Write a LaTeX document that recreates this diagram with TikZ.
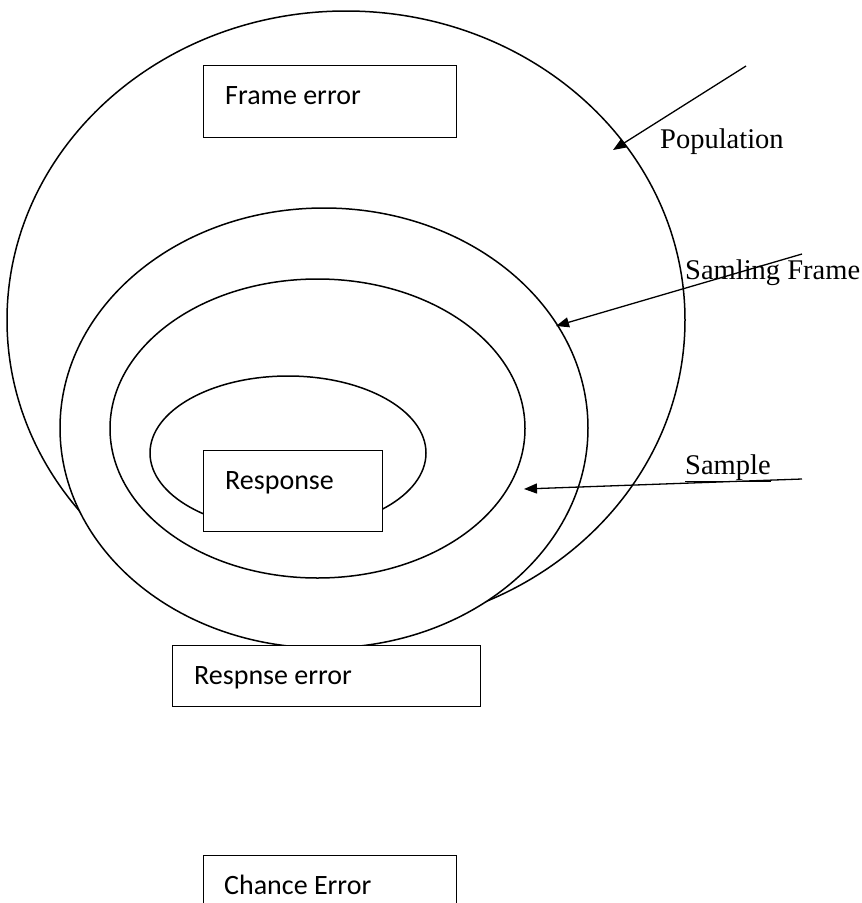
\documentclass[tikz,border=0pt]{standalone}
\usepackage{fontspec}
\setmainfont{Liberation Serif}
\newfontfamily\boxfont{Carlito}
\usetikzlibrary{shapes.geometric,arrows.meta}
\tikzset{
  ring/.style={ellipse, draw, fill=white, line width=1.5pt, inner sep=0pt},
  errbox/.style={draw, fill=white, line width=1.4pt, inner sep=0pt, anchor=north west},
  boxtext/.style={anchor=base west, inner sep=0pt, font=\boxfont\fontsize{28}{34}\selectfont},
  lbl/.style={anchor=base west, inner sep=0pt, font=\fontsize{28.5}{34}\selectfont},
  pointer/.style={line width=1.3pt, -{Triangle[length=13pt,width=10pt]}}
}
\begin{document}
\begin{tikzpicture}[x=1pt,y=-1pt]
\clip (0,0) rectangle (862,903);
\fill[white] (0,0) rectangle (862,903);
% ellipses
\node[ring, minimum width=678pt, minimum height=618pt] (pop) at (346,320) {};
\node[ring, minimum width=528pt, minimum height=440pt] (frame) at (324,428) {};
\node[ring, minimum width=415pt, minimum height=299pt] (samp) at (317.5,428.5) {};
\node[ring, minimum width=276pt, minimum height=154pt] (resp) at (288,453) {};
% boxes
\node[errbox, minimum width=253pt, minimum height=72pt] (fe) at (203,65) {};
\node[boxtext] (fet) at (225,104) {Frame error};
\node[errbox, minimum width=179pt, minimum height=81pt] (rb) at (203,450) {};
\node[boxtext] (rbt) at (225,489) {Response};
\node[errbox, minimum width=308pt, minimum height=61pt] (re) at (172,645) {};
\node[boxtext] (ret) at (194,684) {Respnse error};
\node[errbox, minimum width=253pt, minimum height=80pt] (ce) at (203,855) {};
\node[boxtext] (cet) at (224,894) {Chance Error};
% labels
\node[lbl] (lpop) at (660,148) {Population};
\node[lbl] (lframe) at (685,279) {Samling Frame};
\node[lbl] (lsamp) at (685,474) {\underline{Sample}};
% arrows
\coordinate (a1s) at (746,66);
\coordinate (a1e) at (613,150);
\coordinate (a2s) at (802,254);
\coordinate (a2e) at (556,326);
\coordinate (a3s) at (802,479);
\coordinate (a3e) at (524,489);
\draw[pointer] (a1s) -- (a1e);
\draw[pointer] (a2s) -- (a2e);
\draw[pointer] (a3s) -- (a3e);
\end{tikzpicture}
\end{document}
